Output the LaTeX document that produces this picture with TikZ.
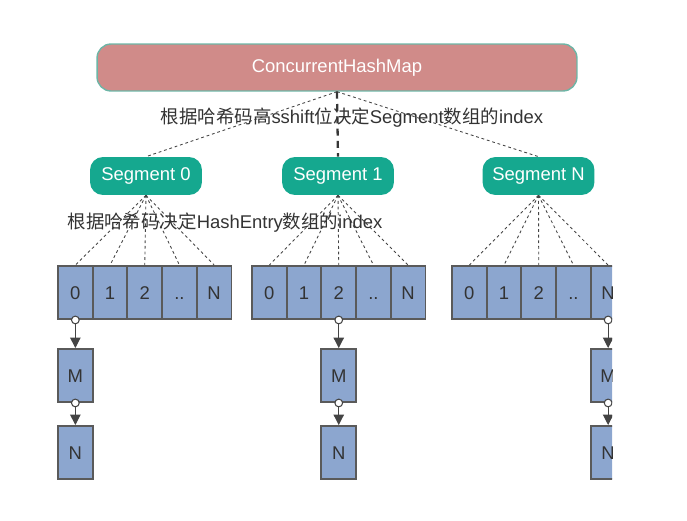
\documentclass[tikz,border=0pt]{standalone}
\usepackage{fontspec}
\setmainfont{Liberation Sans}
\newfontfamily\cjk{Noto Sans CJK SC}
\usetikzlibrary{arrows.meta}

\definecolor{mapred}{HTML}{D08B89}
\definecolor{mapedge}{HTML}{6DB5A6}
\definecolor{segteal}{HTML}{15A88F}
\definecolor{cellblue}{HTML}{8CA6CF}
\definecolor{celledge}{HTML}{5A5A5A}
\definecolor{celltext}{HTML}{333333}
\definecolor{linegray}{HTML}{444444}

\tikzset{
  mapbox/.style={draw=mapedge,line width=0.8pt,fill=mapred,rounded corners=0.28cm,
    minimum width=9.6cm,minimum height=0.94cm,text=white},
  segbox/.style={fill=segteal,rounded corners=0.26cm,minimum width=2.24cm,
    minimum height=0.76cm,text=white},
  cellbox/.style={draw=celledge,line width=1.1pt,fill=cellblue,inner sep=0pt,
    minimum width=0.694cm,minimum height=1.06cm,text=celltext,
    text height=1.55ex,text depth=0pt},
  idxline/.style={draw=linegray,line width=0.5pt,dash pattern=on 1.6pt off 1.6pt},
  hashline/.style={draw=linegray!80!black,line width=1.3pt,dash pattern=on 4pt off 3pt},
  nextarrow/.style={draw=linegray,line width=0.6pt,
    {Circle[length=5pt,width=5pt,fill=white]}-{Triangle[length=6pt,width=6pt]},
    shorten <=-2.5pt},
  hashlabel/.style={text=celltext}
}

\begin{document}
\begin{tikzpicture}[x=0.02cm,y=-0.02cm,font=\fontsize{10.5}{12.5}\selectfont]
\useasboundingbox (0,0) rectangle (687,521);
\clip (0,0) rectangle (612,521);

%top map and segments
\node[mapbox] (chm) at (337,67.5) {ConcurrentHashMap};
\node[segbox] (seg0) at (146,176) {Segment 0};
\node[segbox] (seg1) at (338,176) {Segment 1};
\node[segbox] (segN) at (538.5,176) {Segment N};

\draw[idxline] (chm.south) -- (seg0.north);
\draw[idxline] (chm.south) -- (segN.north);
\draw[hashline] (chm.south) -- (seg1.north);

%HashEntry arrays
\foreach \s/\x/\k in {0/58/0,1/252/2,N/452/4} {
  \foreach \i/\t in {0/0,1/1,2/2,3/..,4/N}
    \node[cellbox] (cell-\s-\i) at (\x+17.35+34.7*\i,292.5) {\t};
  \foreach \i in {0,...,4}
    \draw[idxline] (seg\s.south) -- (cell-\s-\i.north);
  % linked entries
  \path (cell-\s-\k) ++(0,83) node[cellbox] (m-\s) {M};
  \path (m-\s) ++(0,77) node[cellbox] (n-\s) {N};
  \draw[nextarrow] (cell-\s-\k.south) -- (m-\s.north);
  \draw[nextarrow] (m-\s.south) -- (n-\s.north);
}

\node[hashlabel] (seglabel) at (352,118)
  {{\cjk 根据哈希码高}sshift{\cjk 位决定}Segment{\cjk 数组的}index};
\node[hashlabel] (entrylabel) at (225,223)
  {{\cjk 根据哈希码决定}HashEntry{\cjk 数组的}index};
\end{tikzpicture}
\end{document}
